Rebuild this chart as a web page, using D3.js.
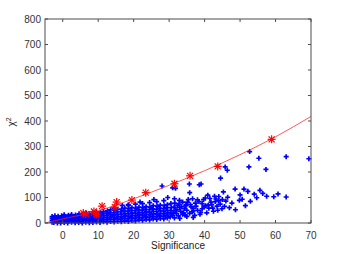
<!DOCTYPE html>
<html>
<head>
<meta charset="utf-8">
<script src="https://cdn.jsdelivr.net/npm/d3@7"></script>
<style>
  body { margin: 0; background: #fff; }
  text { font-family: "Liberation Sans", Arial, sans-serif; }
</style>
</head>
<body>
<div id="chart"></div>
<script>
// ---- data ----
const xTicks = [0, 10, 20, 30, 40, 50, 60, 70]
const yTicks = [0, 100, 200, 300, 400, 500, 600, 700, 800]

// dense band of blue points: [significance, chi2]
const bandPoints = [
  [-3,3],[-3,10],[-3,18],[-3,25],
  [-2.5,2],[-2.4,8],[-2.5,15],[-2.4,22],[-2.2,28],
  [-1.5,0],[-1.4,6],[-1.6,12],[-1.5,19],[-1.3,26],
  [-0.6,0],[-0.5,5],[-0.4,10],[-0.6,16],[-0.5,22],[-0.3,28],
  [0.4,2],[0.5,8],[0.6,14],[0.3,20],[0.5,27],[0.4,32],
  [1.4,0],[1.5,6],[1.6,12],[1.3,18],[1.5,24],[1.6,30],
  [2.5,3],[2.4,9],[2.6,15],[2.5,21],[2.3,27],[2.5,33],
  [3.5,1],[3.4,7],[3.6,13],[3.5,19],[3.3,25],[3.6,31],
  [4.5,2],[4.4,8],[4.6,15],[4.5,22],[4.4,29],[4.6,36],
  [5.5,0],[5.4,6],[5.6,13],[5.5,20],[5.3,27],[5.5,34],
  [6.5,3],[6.4,10],[6.6,17],[6.5,24],[6.4,31],[6.6,38],
  [7.5,1],[7.4,8],[7.6,15],[7.5,22],[7.3,29],[7.5,36],
  [8.5,2],[8.4,9],[8.6,16],[8.5,24],[8.4,32],[8.6,40],
  [9.5,4],[9.4,11],[9.6,19],[9.5,27],[9.3,35],[9.5,43],
  [10.5,2],[10.4,10],[10.6,18],[10.5,26],[10.4,34],[10.6,42],
  [11.5,5],[11.4,13],[11.6,21],[11.5,29],[11.3,37],[11.5,45],
  [12.5,3],[12.4,12],[12.6,21],[12.5,30],[12.4,39],[12.6,48],
  [13.5,6],[13.4,15],[13.6,24],[13.5,33],[13.3,42],[13.5,52],
  [14.5,4],[14.4,13],[14.6,22],[14.5,31],[14.4,40],[14.6,50],[14.5,58],
  [15.5,7],[15.4,16],[15.6,25],[15.5,34],[15.3,43],[15.5,53],
  [16.5,5],[16.4,14],[16.6,24],[16.5,34],[16.4,44],[16.6,55],[16.8,69],
  [17.5,8],[17.4,18],[17.6,28],[17.5,38],[17.3,48],[17.5,58],
  [18.5,6],[18.4,16],[18.6,26],[18.5,36],[18.4,46],[18.6,56],[18.5,72],
  [19.5,10],[19.4,20],[19.6,30],[19.5,40],[19.3,50],[19.5,60],
  [20.5,8],[20.4,18],[20.6,28],[20.5,38],[20.4,48],[20.6,58],[20.5,74],
  [21.5,12],[21.4,22],[21.6,32],[21.5,42],[21.3,52],[21.5,62],[21.8,82],
  [22.5,10],[22.4,20],[22.6,30],[22.5,40],[22.4,50],[22.6,60],[22.5,76],
  [23.5,14],[23.4,24],[23.6,34],[23.5,44],[23.3,54],[23.5,64],
  [24.5,12],[24.4,22],[24.6,32],[24.5,42],[24.4,52],[24.6,62],[24.5,80],
  [25.5,16],[25.4,26],[25.6,36],[25.5,46],[25.3,56],[25.5,68],[25.7,92],
  [26.5,14],[26.4,24],[26.6,34],[26.5,44],[26.4,54],[26.6,66],[26.5,84],
  [27.5,18],[27.4,28],[27.6,38],[27.5,48],[27.3,58],[27.5,70],
  [28.5,16],[28.4,26],[28.6,36],[28.5,46],[28.4,56],[28.6,68],[28.5,88],
  [29.5,20],[29.4,30],[29.6,40],[29.5,50],[29.3,60],[29.5,72],[29.6,100],
  [30.3,24],[30.5,36],[30.4,48],[30.6,60],[30.5,76],
  [28,145],[31,138],[31.8,136],[18.5,69]
]

// blue points between 30 and 46, where the band thins out
const tailPoints = [
  [31,30],[31.2,42],[31.4,62],[31.6,78],[32,38],[32.2,52],[32.6,28],[32.8,74],
  [33.2,46],[33.5,64],[33.8,82],[34,40],[34.5,30],[34.7,68],[35,50],[35.4,92],
  [35.8,38],[36,72],[36.5,44],[36.8,58],[37.2,30],[37.6,66],[38,50],[38.4,84],
  [38.9,42],[39.3,56],[39.7,92],[40.3,68],[40.6,40],[41.2,58],[41.5,96],
  [42,72],[42.5,46],[43,84],[43.5,66],[44,104],[44.4,74],[45,92],[31.5,20],
  [33,18],[35,26],[36.8,22]
]

// sparse blue points beyond the band
const sparsePoints = [
  [31.5,95],[31.7,50],[32.4,69],[32.9,89],[33.8,34],[34.3,56],[35.2,82],
  [36.2,63],[36.6,95],[37.4,78],[38,91],[38.7,34],[39.3,76],[39.9,63],
  [40.2,98],[40.9,109],[41.8,82],[42.8,105],[43.2,94],[43.7,50],[44.9,56],
  [45.3,122],[45.6,65],[46,86],[46.5,101],[47.7,78],[48.6,133],[48.7,52],
  [49.8,89],[50.6,93],[51.1,133],[51.5,68],[52.2,124],[52.9,85],[54,113],
  [54.7,99],[55.6,128],[56.4,116],[57.5,105],[59.5,103],[60.7,114],[63,102],
  [35.8,119],[35.7,153],[38.5,150],[39,153],[44.5,176],[45.8,220],[46.4,207],
  [52.5,220],[52.7,280],[55.3,254],[57.3,210],[63,260],[69.4,252],
  [33,60],[34.8,72],[36.9,48],[41,70],[42.3,58],[44,88],[47,60],[50,110]
]

// red asterisks
const redSig = [5.8, 6.5, 8.8, 9.5, 11.1, 14.7, 15.2, 19.5, 23.4, 31.5, 35.9, 43.7, 58.9]
const redChi = [39, 35, 45, 34, 66, 62, 82, 90, 119, 154, 185, 222, 328]

// red fitted curve
const curveSig = [-5, 0, 10, 20, 30, 40, 50, 60, 70]
const curveChi = [0, 16, 48, 95, 148, 205, 268, 338, 418]

// ---- layout ----
const W = 344, H = 254
const plot = { left: 45, right: 311, top: 19, bottom: 223 }

const svg = d3.select('#chart')
  .append('svg')
    .attr('width', W)
    .attr('height', H)

const x = d3.scaleLinear().domain([-5, 70]).range([plot.left, plot.right])
const y = d3.scaleLinear().domain([0, 800]).range([plot.bottom, plot.top])

const axisColor = '#4d4d4d'
const tickLen = 3

// blue points
const cross = d3.symbol().type(d3.symbolCross).size(14)
svg.append('g')
  .selectAll('path')
  .data(bandPoints.concat(tailPoints, sparsePoints))
  .enter()
  .append('path')
    .attr('d', cross)
    .attr('transform', d => `translate(${x(d[0])},${y(d[1])})`)
    .attr('fill', '#0000ff')

// red curve
const line = d3.line()
  .x(d => x(d[0]))
  .y(d => y(d[1]))
  .curve(d3.curveMonotoneX)

svg.append('path')
  .datum(curveSig.map((s, i) => [s, curveChi[i]]))
  .attr('d', line)
  .attr('fill', 'none')
  .attr('stroke', '#ff2020')
  .attr('stroke-opacity', 0.75)
  .attr('stroke-width', 1)

// red asterisks
const star = svg.append('g')
  .selectAll('g')
  .data(redSig.map((s, i) => [s, redChi[i]]))
  .enter()
  .append('g')
    .attr('transform', d => `translate(${x(d[0])},${y(d[1])})`)
    .attr('stroke', '#ff0000')
    .attr('stroke-width', 1.2)

const r = 4, rd = 3
star.append('line').attr('x1', -r).attr('x2', r).attr('y1', 0).attr('y2', 0)
star.append('line').attr('x1', 0).attr('x2', 0).attr('y1', -r).attr('y2', r)
star.append('line').attr('x1', -rd).attr('x2', rd).attr('y1', -rd).attr('y2', rd)
star.append('line').attr('x1', -rd).attr('x2', rd).attr('y1', rd).attr('y2', -rd)

// axes box
svg.append('rect')
  .attr('x', plot.left)
  .attr('y', plot.top)
  .attr('width', plot.right - plot.left)
  .attr('height', plot.bottom - plot.top)
  .attr('fill', 'none')
  .attr('stroke', axisColor)
  .attr('stroke-width', 1)

const ticks = svg.append('g').attr('stroke', axisColor).attr('stroke-width', 1)

xTicks.forEach(t => {
  ticks.append('line').attr('x1', x(t)).attr('x2', x(t)).attr('y1', plot.bottom).attr('y2', plot.bottom - tickLen)
  ticks.append('line').attr('x1', x(t)).attr('x2', x(t)).attr('y1', plot.top).attr('y2', plot.top + tickLen)
})
yTicks.forEach(t => {
  ticks.append('line').attr('x1', plot.left).attr('x2', plot.left + tickLen).attr('y1', y(t)).attr('y2', y(t))
  ticks.append('line').attr('x1', plot.right).attr('x2', plot.right - tickLen).attr('y1', y(t)).attr('y2', y(t))
})

// tick labels
svg.append('g')
  .selectAll('text')
  .data(xTicks)
  .enter()
  .append('text')
    .attr('x', d => x(d))
    .attr('y', plot.bottom + 16)
    .attr('text-anchor', 'middle')
    .attr('font-size', 10)
    .attr('fill', '#333')
    .text(d => d)

svg.append('g')
  .selectAll('text')
  .data(yTicks)
  .enter()
  .append('text')
    .attr('x', plot.left - 4)
    .attr('y', d => y(d) + 3.5)
    .attr('text-anchor', 'end')
    .attr('font-size', 10)
    .attr('fill', '#333')
    .text(d => d)

// axis labels
svg.append('text')
  .attr('x', (plot.left + plot.right) / 2)
  .attr('y', 249)
  .attr('text-anchor', 'middle')
  .attr('font-size', 10)
  .attr('fill', '#222')
  .text('Significance')

svg.append('text')
  .attr('transform', 'translate(15,122) rotate(-90)')
  .attr('text-anchor', 'middle')
  .attr('font-size', 10)
  .attr('fill', '#222')
  .html('χ<tspan dy="-4" font-size="7">2</tspan>')
</script>
</body>
</html>
